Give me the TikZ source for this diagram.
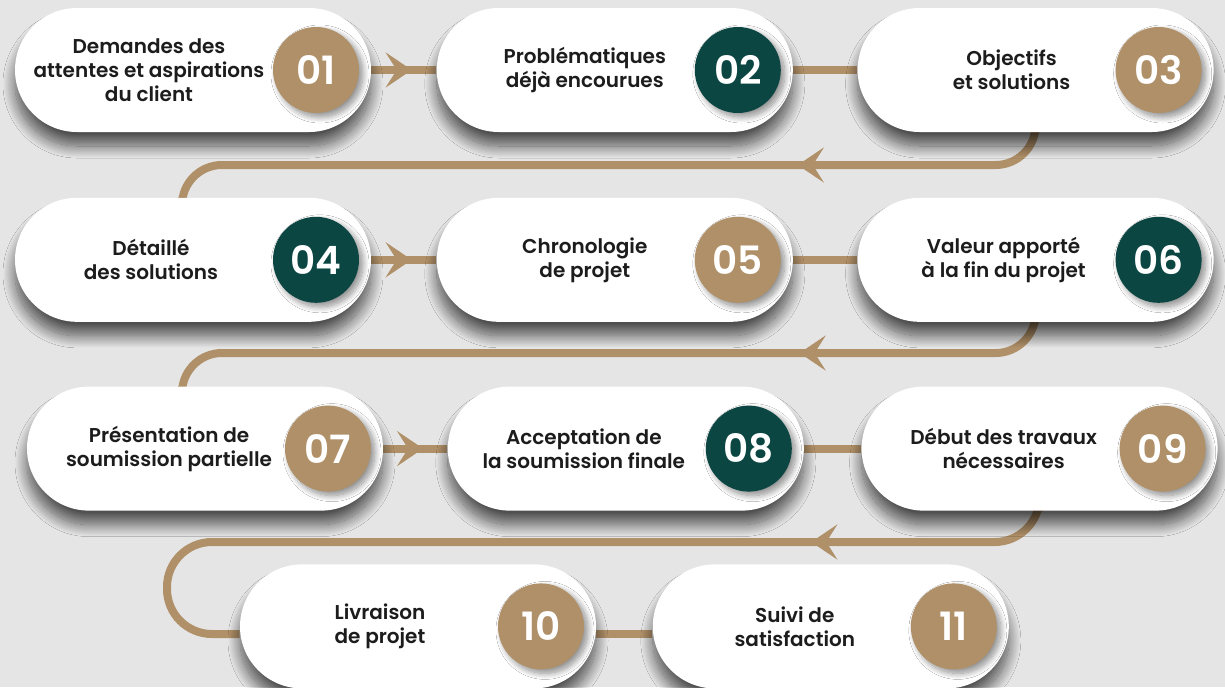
\documentclass[tikz,border=0pt]{standalone}
\usepackage{fontspec}
\setmainfont{Poppins}[BoldFont={* SemiBold}]
\usepackage{xcolor}
\usepackage{tikz}
\usetikzlibrary{positioning,shapes.misc,arrows.meta,decorations.markings,backgrounds,shadows.blur}

\definecolor{bgcol}{HTML}{E5E5E5}
\definecolor{tan}{HTML}{B09068}
\definecolor{pine}{HTML}{0B4643}
\definecolor{ink}{HTML}{1C1C1C}

\begin{document}
\begin{tikzpicture}[x=0.5pt,y=-0.5pt]
	\tikzset{pill/.style={rounded rectangle,fill=white,minimum width=178pt,minimum height=62pt,inner sep=0pt,
		blur shadow={shadow xshift=0pt,shadow yshift=-7pt,shadow blur radius=6pt,shadow blur steps=20,shadow opacity=65}}}
	\tikzset{numtan/.style={circle,fill=tan,minimum size=43pt,inner sep=0pt,text=white,
		font=\bfseries\fontsize{19.5}{19.5}\selectfont,
		blur shadow={shadow xshift=2pt,shadow yshift=-2pt,shadow blur radius=3pt,shadow blur steps=12,shadow opacity=45}}}
	\tikzset{numpine/.style={numtan,fill=pine}}
	\tikzset{lbl/.style={align=center,text=ink,font=\bfseries\fontsize{10}{12}\selectfont}}
	\tikzset{flow/.style={draw=tan,line width=4pt}}
	\tikzset{fwd/.style={postaction={decorate},decoration={markings,
		mark=at position #1 with {\arrow{Stealth[length=13pt,width=17.5pt,inset=5.5pt]}}}}}

\useasboundingbox (0,0) rectangle (1225,687);

% boxes
\node[pill] (p1) at (193,70) {};
\node[pill,right=32.5pt of p1] (p2) {};
\node[pill,right=32pt of p2] (p3) {};
\node[pill,below=32.5pt of p1] (p4) {};
\node[pill,right=32.5pt of p4] (p5) {};
\node[pill,right=32pt of p5] (p6) {};
\node[pill,below=32pt of p4,xshift=6pt] (p7) {};
\node[pill,right=32pt of p7] (p8) {};
\node[pill,right=28.5pt of p8] (p9) {};
\node[pill,below=26.5pt of p7,xshift=106.5pt] (p10) {};
\node[pill,right=28pt of p10] (p11) {};

% numbers
\node[numtan] (n1) at ([xshift=61.5pt]p1.center) {01};
\node[numpine] (n2) at ([xshift=61.5pt]p2.center) {02};
\node[numtan] (n3) at ([xshift=61.5pt]p3.center) {03};
\node[numpine] (n4) at ([xshift=61.5pt]p4.center) {04};
\node[numtan] (n5) at ([xshift=61.5pt]p5.center) {05};
\node[numpine] (n6) at ([xshift=61.5pt]p6.center) {06};
\node[numtan] (n7) at ([xshift=61.5pt]p7.center) {07};
\node[numpine] (n8) at ([xshift=61.5pt]p8.center) {08};
\node[numtan] (n9) at ([xshift=61.5pt]p9.center) {09};
\node[numtan] (n10) at ([xshift=61.5pt]p10.center) {10};
\node[numtan] (n11) at ([xshift=61.5pt]p11.center) {11};

% texts
\node[lbl] (t1) at ([xshift=-22pt]p1.center) {Demandes des\\attentes et aspirations\\du client};
\node[lbl] (t2) at ([xshift=-15pt]p2.center) {Problématiques\\déjà encourues};
\node[lbl] (t3) at ([xshift=-12pt]p3.center) {Objectifs\\et solutions};
\node[lbl] (t4) at ([xshift=-21pt]p4.center) {Détaillé\\des solutions};
\node[lbl] (t5) at ([xshift=-15pt]p5.center) {Chronologie\\de projet};
\node[lbl] (t6) at ([xshift=-16pt]p6.center) {Valeur apporté\\à la fin du projet};
\node[lbl] (t7) at ([xshift=-18pt]p7.center) {Présentation de\\soumission partielle};
\node[lbl] (t8) at ([xshift=-21pt]p8.center) {Acceptation de\\la soumission finale};
\node[lbl] (t9) at ([xshift=-18pt]p9.center) {Début des travaux\\nécessaires};
\node[lbl] (t10) at ([xshift=-19pt]p10.center) {Livraison\\de projet};
\node[lbl] (t11) at ([xshift=-18pt]p11.center) {Suivi de\\satisfaction};

\coordinate (k1) at (182,165);
\coordinate (k2) at (182,353);
\coordinate (k3) at (167,542);
\coordinate (k4) at (167,634);

\begin{scope}[on background layer]
\fill[bgcol] (0,0) rectangle (1225,687);
\draw[flow,fwd=0.62] (p1.east) -- (p2.west);
\draw[flow] (p2.east) -- (p3.west);
\draw[flow,rounded corners=20pt,fwd=134pt] (p3.south) |- (k1) -- (k1 |- p4.north);
\draw[flow,fwd=0.62] (p4.east) -- (p5.west);
\draw[flow] (p5.east) -- (p6.west);
\draw[flow,rounded corners=20pt,fwd=134pt] (p6.south) |- (k2) -- (k2 |- p7.north);
\draw[flow,fwd=0.62] (p7.east) -- (p8.west);
\draw[flow] (p8.east) -- (p9.west);
\draw[flow,rounded corners=22.5pt,fwd=134pt] (p9.south) |- (k3) -- (k4) -- (k4 -| p10.west);
\draw[flow] (k4 -| p10.east) -- (k4 -| p11.west);
\end{scope}

\end{tikzpicture}
\end{document}
